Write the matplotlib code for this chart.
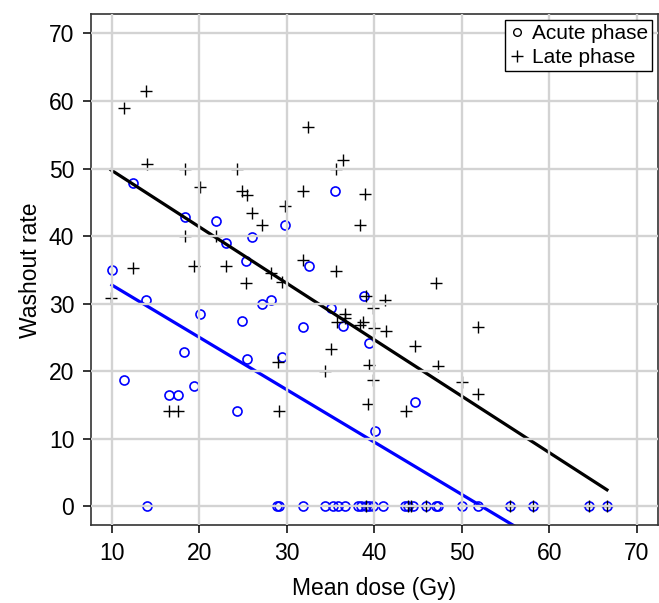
import matplotlib
matplotlib.use("Agg")
import matplotlib.pyplot as plt
from matplotlib.lines import Line2D
import numpy as np

plt.rcParams['font.family'] = ['Liberation Sans', 'DejaVu Sans']

# acute phase (circles)
acute_dose = [10.0, 11.4, 12.4, 13.9, 16.5, 17.5, 18.2, 18.4, 19.4, 20.1,
              21.9, 23.0, 24.3, 24.9, 25.3, 25.5, 26.0, 27.2, 28.2, 29.5,
              29.8, 31.8, 32.5, 35.1, 35.5, 36.4, 38.8, 39.4, 40.1, 44.6,
              14.0, 28.9, 29.1, 31.9, 34.4, 35.3, 35.85, 36.6, 38.1, 38.5,
              39.0, 39.4, 39.8, 41.0, 43.5, 43.9, 44.4, 45.9, 47.0, 47.3,
              50.0, 51.8, 55.5, 58.1, 64.6, 66.6]
acute_rate = [35.0, 18.7, 47.9, 30.6, 16.5, 16.5, 22.9, 42.8, 17.8, 28.4,
              42.2, 39.0, 14.1, 27.4, 36.3, 21.8, 39.9, 29.9, 30.6, 22.1,
              41.6, 26.5, 35.6, 29.3, 46.6, 26.7, 31.1, 24.1, 11.2, 15.4,
              0, 0, 0, 0, 0, 0, 0, 0, 0, 0,
              0, 0, 0, 0, 0, 0, 0, 0, 0, 0,
              0, 0, 0, 0, 0, 0]

# late phase (plus)
late_dose = [9.9, 11.4, 12.4, 13.9, 14.0, 16.5, 17.5, 18.4, 18.3, 19.4,
             20.1, 21.9, 23.0, 24.3, 24.9, 25.3, 25.4, 26.0, 27.2, 28.2,
             29.0, 29.1, 29.4, 29.8, 31.8, 31.9, 32.4, 34.4, 35.1, 35.6,
             35.6, 35.7, 36.4, 36.6, 36.7, 38.4, 38.4, 38.7, 38.9, 39.0,
             39.3, 39.4, 39.8, 39.9, 40.0, 41.2, 41.3, 43.6, 44.6, 47.1,
             47.3, 50.0, 51.8, 51.9,
             39.0, 43.8, 44.2, 45.9, 55.5, 58.1, 64.6, 66.6]
late_rate = [30.8, 59.0, 35.3, 61.4, 50.7, 14.1, 14.1, 50.0, 40.0, 35.6,
             47.3, 40.0, 35.6, 50.0, 46.6, 33.1, 46.1, 43.4, 41.6, 34.6,
             21.3, 14.1, 33.2, 44.4, 46.6, 36.4, 56.1, 20.0, 23.3, 34.9,
             50.0, 27.3, 51.2, 28.4, 27.9, 41.6, 26.8, 27.3, 46.3, 31.2,
             15.1, 20.9, 29.3, 18.7, 26.4, 30.6, 26.0, 14.1, 23.8, 33.1,
             20.7, 18.4, 16.6, 26.5,
             0, 0, 0, 0, 0, 0, 0, 0]

# regression lines (intercept, slope)
acute_fit = [40.5, -0.775]
late_fit = [58.05, -0.835]

fig = plt.figure(figsize=(6.59, 6.03), dpi=100)
ax = fig.add_axes([0.138, 0.129, 0.860, 0.847])

ax.plot(acute_dose, acute_rate, 'o', ms=6.5, mfc='none', mec='#0000ff',
        mew=1.2, zorder=2)
ax.plot(late_dose, late_rate, '+', ms=8.5, color='black', mew=1.0, zorder=2)

xa = np.array([min(acute_dose), max(acute_dose)])
ax.plot(xa, acute_fit[0] + acute_fit[1] * xa, color='#0000ff', lw=2.3, zorder=2)
xl = np.array([min(late_dose), max(late_dose)])
ax.plot(xl, late_fit[0] + late_fit[1] * xl, color='black', lw=2.3, zorder=2)

ax.set_xlim(7.6, 72.4)
ax.set_ylim(-2.8, 72.8)
ax.set_xticks(range(10, 71, 10))
ax.set_yticks(range(0, 71, 10))
ax.grid(True, color='#d3d3d3', lw=1.7)
ax.set_axisbelow(False)
for gl in ax.get_xgridlines() + ax.get_ygridlines():
    gl.set_zorder(3)

ax.tick_params(labelsize=16.5, length=6, width=1.1, direction='out', pad=6)
for s in ax.spines.values():
    s.set_linewidth(1.2)
    s.set_color('#333333')

ax.set_xlabel('Mean dose (Gy)', fontsize=16.5, labelpad=9)
ax.set_ylabel('Washout rate', fontsize=16.5, labelpad=5)

handles = [Line2D([], [], ls='none', marker='o', ms=5.5, mfc='none',
                  mec='black', mew=1.0),
           Line2D([], [], ls='none', marker='+', ms=8.5, color='black',
                  mew=1.0)]
leg = ax.legend(handles, ['Acute phase', 'Late phase'], loc='upper right',
                fontsize=15, frameon=True, fancybox=False,
                edgecolor='black', handlelength=0.7, handletextpad=0.35,
                borderpad=0.22, labelspacing=0.22, borderaxespad=0.25,
                framealpha=1)
leg.get_frame().set_linewidth(1.0)
leg.set_zorder(5)

plt.savefig('out.png', dpi=100)
